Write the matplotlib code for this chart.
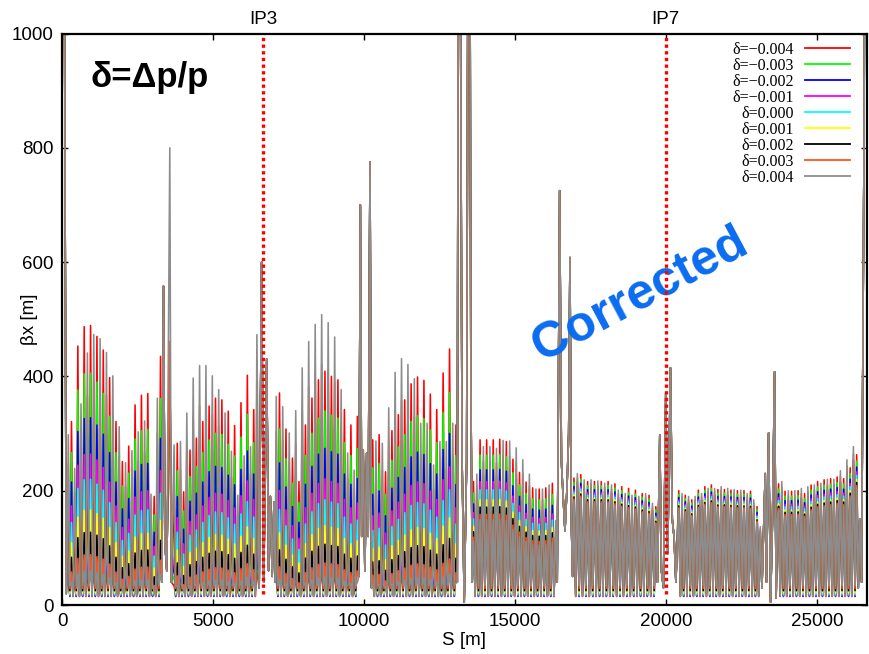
import numpy as np
import matplotlib.pyplot as plt

plt.rcParams["font.family"] = ["Liberation Sans", "DejaVu Sans"]

deltas = [-0.004, -0.003, -0.002, -0.001, 0.000, 0.001, 0.002, 0.003, 0.004]
labels = ["δ=" + ("%.3f" % d).replace("-", "\u2212") for d in deltas]
colors = ["#ff0000", "#00ff00", "#0000ff", "#ff00ff", "#00ffff",
          "#ffff00", "#000000", "#ff5020", "#8c8c8c"]

# share of a cell's top reached by each series in a red-topped cell
# (read off the colour bands); grey-topped cells use it reversed
ladder = [1.00, 0.83, 0.67, 0.54, 0.45, 0.34, 0.26, 0.18, 0.12]
# QD trough of each series in a red-topped cell [m]
trough = [34, 29, 25, 21, 18, 16, 15, 15, 16]

# arcs: first cell position [m], cell length [m], top of each cell [m]
arc_start = [209, 3712, 7095, 10290, 13628, 16955, 20425, 23730]
arc_step = [105.3, 105.5, 107.5, 106.0, 108.8, 113.0, 108.0, 107.8]
arc_red_first = [False, False, False, True, True, True, True, True]
arc_spread = [1.0, 1.0, 1.0, 1.0, 0.55, 0.2, 0.18, 0.25]

arc_a_tops = [298, 321, 239, 453, 352, 487, 441, 489, 473, 470, 466, 446, 442, 398, 401,
              321, 312, 251, 249, 278, 270, 350, 303, 367, 322, 370, 194, 190, 362, 435]
arc_b_tops = [280, 283, 286, 198, 336, 271, 397, 292, 419, 321, 419, 348, 401, 362, 377,
              359, 336, 339, 269, 314, 192, 354, 261, 402, 277, 342, 473]
arc_c_tops = [365, 371, 347, 308, 301, 257, 340, 216, 415, 315, 461, 362, 491, 394, 508,
              409, 494, 400, 469, 394, 377, 342, 266, 315, 236, 330]
arc_d_tops = [289, 287, 298, 283, 233, 345, 305, 407, 333, 431, 359, 421, 387, 396, 399,
              318, 393, 318, 369, 245, 342, 286, 406, 286, 448, 318, 315]
arc_e_tops = [216, 229, 289, 277, 289, 277, 289, 274, 290, 288, 286, 287, 255, 275, 232,
              254, 215, 229, 205, 203, 203, 203, 205, 210, 213, 148]
arc_f_tops = [222, 230, 228, 219, 216, 219, 216, 217, 216, 213, 216, 210, 212, 201, 207,
              195, 204, 192, 201, 190, 195, 195, 192, 178, 172]
arc_g_tops = [200, 195, 192, 190, 184, 190, 201, 195, 207, 204, 210, 204, 202, 207, 202,
              204, 201, 202, 200, 201, 200, 195, 199, 184, 172, 137]
arc_h_tops = [212, 216, 199, 200, 199, 200, 200, 204, 195, 207, 210, 210, 216, 213, 219,
              220, 221, 220, 224, 235, 221, 254, 240, 277, 263]
arc_tops = [arc_a_tops, arc_b_tops, arc_c_tops, arc_d_tops,
            arc_e_tops, arc_f_tops, arc_g_tops, arc_h_tops]

# insertion regions (same for all series)
ir1_s = [0, 60, 140, 175]
ir1_b = [1500, 1500, 20, 120]
ir2_s = [3310, 3361, 3410, 3470, 3570, 3620]
ir2_b = [40, 558, 107, 60, None, 40]
ir2_spike = [455, 455, 458, 458, 460, 460, 460, 461, 800]   # at 3570 m, per series
ir3_s = [6530, 6610, 6680, 6780, 6840, 6900, 6960, 7020, 7060]
ir3_b = [30, 600, 40, 430, 60, 190, 50, 180, 40]
ir4_s = [9830, 9880, 9925, 9975, 10030, 10090, 10140, 10200, 10250]
ir4_b = [50, 700, 120, 271, 60, 266, 120, 775, 30]
ir5_s = [13090, 13130, 13170, 13250, 13320, 13400, 13460, 13500, 13540, 13585]
ir5_b = [40, 1500, 1500, 250, 5, 250, 1500, 1500, 394, 40]
ir6_s = [16400, 16481, 16540, 16600, 16657, 16720, 16780, 16822, 16870, 16910]
ir6_b = [40, 725, 250, 185, 130, 200, 300, 608, 140, 50]
ir7_s = [19720, 19797, 19850, 19920, 19995, 20060, 20150, 20210, 20270, 20330]
ir7_b = [40, 298, 60, 30, 371, 90, 415, 150, 119, 40]
ir8_s = [23180, 23289, 23330, 23400, 23466, 23530, 23598, 23650, 23690]
ir8_b = [30, 230, 40, 301, 5, 150, 408, 12, 150]
ir9_s = [26370, 26420, 26480, 26560, 26600, 26659]
ir9_b = [30, 150, 40, 800, 1500, 1500]
ir_s = [ir1_s, ir2_s, ir3_s, ir4_s, ir5_s, ir6_s, ir7_s, ir8_s, ir9_s]
ir_b = [ir1_b, ir2_b, ir3_b, ir4_b, ir5_b, ir6_b, ir7_b, ir8_b, ir9_b]

ip_s = [6660, 19995]
ip_names = ["IP3", "IP7"]


def arc_points(k, a):
    tops = arc_tops[a]
    s0, L = arc_start[a], arc_step[a]
    xs, ys = [], []
    for i, top in enumerate(tops):
        red = (i % 2 == 0) == arc_red_first[a]
        f = ladder[k] if red else ladder[-1 - k]
        xs.append(s0 + i * L)
        ys.append(top * (1 - arc_spread[a] * (1 - f)))
        if i < len(tops) - 1:
            xs.append(s0 + (i + 0.5) * L)
            ys.append(trough[k] if red else trough[-1 - k])
    return xs, ys


fig = plt.figure(figsize=(8.69, 6.54), dpi=100)
ax = fig.add_axes([62 / 869, 1 - 605 / 654, 805 / 869, 571.5 / 654])

for k in range(len(deltas)):
    xs, ys = [], []
    for r in range(len(ir_s)):
        xs += ir_s[r]
        ys += [ir2_spike[k] if v is None else v for v in ir_b[r]]
        if r < len(arc_tops):
            px, py = arc_points(k, r)
            xs += px
            ys += py
    ax.plot(xs, ys, color=colors[k], lw=1.15, label=labels[k])

ax.vlines(ip_s, 20, 1000, colors="red", linestyles=(0, (1, 1)), lw=2.4, zorder=5)
for s, name in zip(ip_s, ip_names):
    ax.annotate(name, xy=(s, 1.0), xycoords=("data", "axes fraction"),
                xytext=(0, 7), textcoords="offset points",
                ha="center", va="baseline", fontsize=13.5)

ax.set_xlim(0, 26659)
ax.set_ylim(0, 1000)
ax.set_xticks([0, 5000, 10000, 15000, 20000, 25000])
ax.set_yticks([0, 200, 400, 600, 800, 1000])
ax.tick_params(direction="in", length=4, width=1, top=True, right=True,
               labelsize=13.5, pad=6)
for sp in ax.spines.values():
    sp.set_linewidth(1.6)
ax.set_xlabel("S [m]", fontsize=13.5, labelpad=1)
ax.set_ylabel("βx [m]", fontsize=13.5)
ax.yaxis.set_label_coords(-0.03, 0.5)

leg = ax.legend(loc="upper right", bbox_to_anchor=(0.979, 0.985), markerfirst=False,
                frameon=False, prop={"family": "Liberation Serif", "size": 11.5},
                handlelength=2.8, handletextpad=0.7, labelspacing=0.0,
                borderpad=0, borderaxespad=0)
for ln in leg.get_lines():
    ln.set_linewidth(1.3)

ax.text(0.035, 0.906, "δ=Δp/p", transform=ax.transAxes, fontsize=25,
        fontweight="bold", va="baseline")
ax.text(0.718, 0.542, "Corrected", transform=ax.transAxes, fontsize=36,
        fontweight="bold", color="#0a6cf0", rotation=28,
        ha="center", va="center", rotation_mode="anchor")

fig.savefig("out.png", dpi=100)
